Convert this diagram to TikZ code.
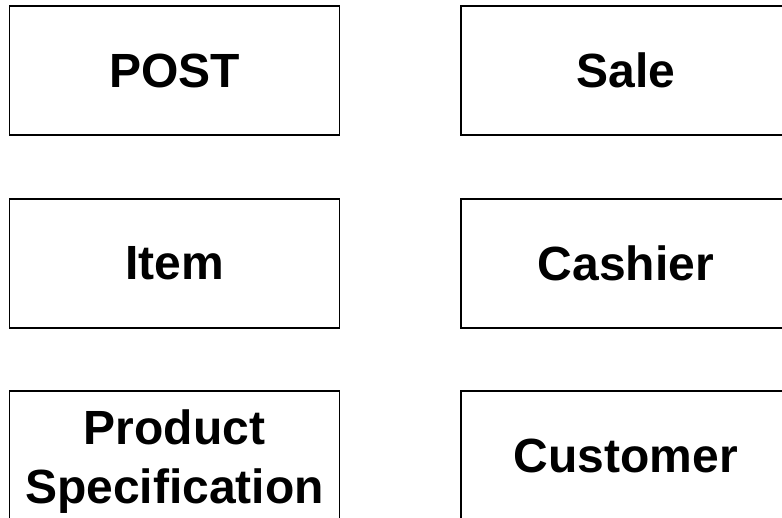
\documentclass[tikz,border=0pt]{standalone}
\usepackage{fontspec}
\setmainfont{Liberation Sans}
\begin{document}
\begin{tikzpicture}[x=1pt,y=-1pt,
  classbox/.style={draw=black, line width=1.4pt, rectangle,
    minimum width=330pt, minimum height=129pt, inner sep=0pt,
    align=center, font=\bfseries\fontsize{48}{59}\selectfont},
  boxlabel/.style={inner sep=0pt, align=center,
    font=\bfseries\fontsize{48}{59}\selectfont}]
  \useasboundingbox (0,0) rectangle (782,518);
  \clip (0,0) rectangle (782,518);
  \fill[white] (0,0) rectangle (782,518);
  % two columns of concept boxes
  \node[classbox] (post)     at (174.5,70.5)  {POST};
  \node[classbox] (sale)     at (626,70.5)    {Sale};
  \node[classbox] (item)     at (174.5,263.5) {Item};
  \node[classbox] (cashier)  at (626,263.5)   {Cashier};
  \node[classbox] (prodspec) at (174.5,455.5) {};
  \node[boxlabel, yshift=-6.5pt] (prodspeclabel) at (prodspec.center) {Product\\Specification};
  \node[classbox] (customer) at (626,455.5)   {Customer};
\end{tikzpicture}
\end{document}
